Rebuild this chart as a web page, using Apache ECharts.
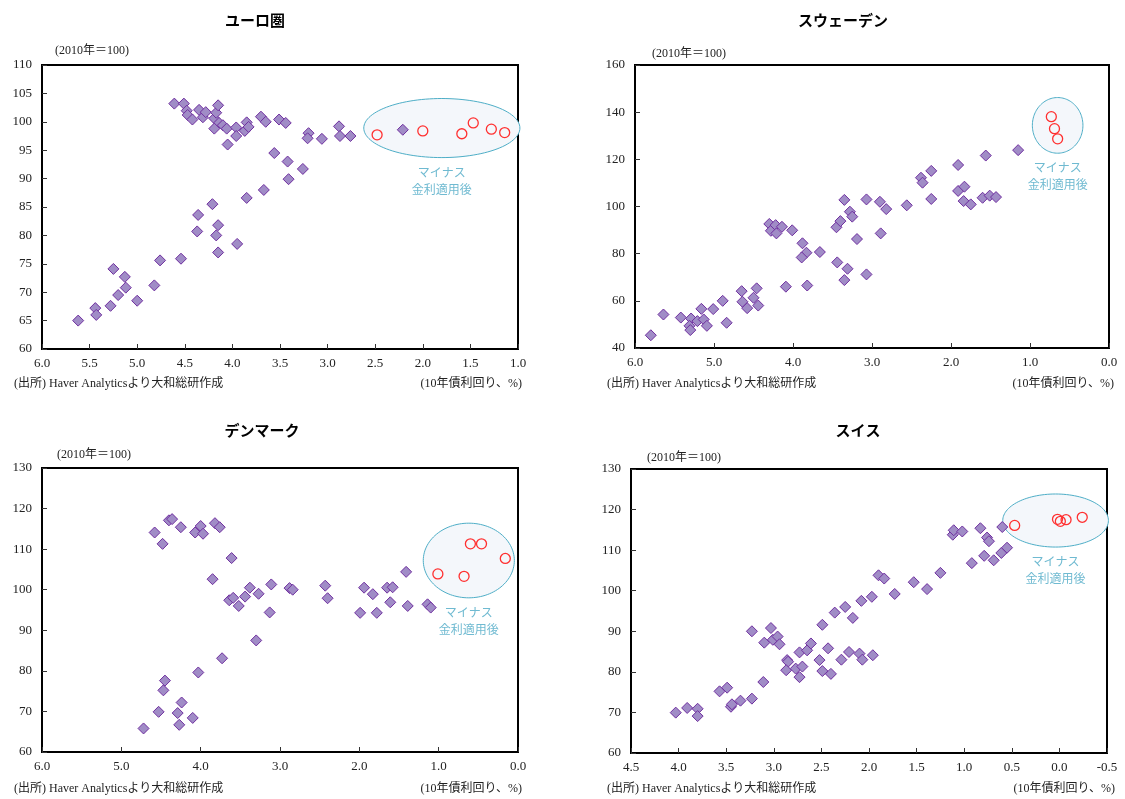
<!DOCTYPE html>
<html><head><meta charset="utf-8">
<script src="https://cdn.jsdelivr.net/npm/echarts@6/dist/echarts.min.js"></script>
<style>html,body{margin:0;padding:0;background:#fff}#c{width:1125px;height:799px}</style>
</head><body><div id="c"></div>
<script>
// ---- data ----
const panelTitles = ['ユーロ圏', 'スウェーデン', 'デンマーク', 'スイス'];
const indexNote = '(2010年＝100)';
const sourceNote = '(出所) Haver Analyticsより大和総研作成';
const unitNote = '(10年債利回り、%)';
const negLabel = 'マイナス\n金利適用後';

const euroXRange = [1, 6, 0.5];
const euroYRange = [60, 110, 5];
const euroPts = [[4.61,103.2],[4.51,103.2],[4.48,101.95],[4.47,101.2],[4.42,100.4],[4.35,102.1],[4.31,100.8],[4.28,101.7],[4.19,100.6],[4.17,101.6],[4.15,102.9],[4.14,99.8],[4.19,98.8],[4.10,99.4],[4.06,98.8],[4.05,96.0],[3.96,99.0],[3.96,97.5],[3.87,98.4],[3.85,99.9],[3.83,99.1],[3.70,100.9],[3.65,100.0],[3.56,94.5],[3.51,100.4],[3.44,99.8],[3.42,93.0],[3.41,89.9],[3.26,91.7],[3.20,98.0],[3.21,97.1],[3.06,97.0],[2.88,99.2],[2.87,97.5],[2.76,97.5],[2.21,98.6],[4.21,85.5],[4.36,83.6],[4.37,80.7],[4.15,81.8],[4.17,80.0],[4.15,77.0],[3.95,78.5],[3.85,86.6],[3.67,88.0],[4.54,75.9],[4.76,75.6],[4.82,71.2],[5.00,68.5],[5.25,74.1],[5.13,72.7],[5.12,70.8],[5.20,69.5],[5.28,67.6],[5.44,67.2],[5.43,66.0],[5.62,65.0]];
const euroNeg = [[2.48,97.7],[2.00,98.4],[1.59,97.9],[1.47,99.8],[1.28,98.7],[1.14,98.1]];
const euroEllipse = [1.80, 98.9, 0.82, 5.2];

const swedenXRange = [0, 6, 1];
const swedenYRange = [40, 160, 20];
const swedenPts = [[5.80,45.4],[5.64,54.2],[5.42,52.9],[5.29,52.5],[5.31,49.4],[5.30,47.6],[5.21,51.4],[5.13,52.1],[5.09,49.4],[5.16,56.6],[5.01,56.5],[4.89,60.0],[4.84,50.7],[4.65,64.1],[4.64,59.6],[4.58,56.9],[4.50,61.3],[4.46,65.3],[4.44,58.0],[4.30,92.6],[4.28,89.7],[4.22,92.1],[4.21,88.6],[4.14,91.4],[4.01,89.9],[4.09,66.0],[3.88,84.4],[3.83,80.4],[3.89,78.4],[3.82,66.5],[3.66,80.7],[3.44,76.3],[3.31,73.6],[3.35,68.8],[3.45,91.2],[3.40,93.8],[3.35,102.8],[3.28,97.8],[3.25,95.7],[3.19,86.2],[3.07,103.0],[3.07,71.2],[2.90,102.0],[2.82,98.9],[2.89,88.6],[2.56,100.5],[2.38,112.2],[2.36,110.1],[2.25,115.1],[2.25,103.2],[1.91,117.6],[1.91,106.6],[1.83,108.4],[1.84,102.3],[1.75,100.9],[1.56,121.6],[1.60,103.7],[1.51,104.6],[1.43,104.0],[1.15,123.9]];
const swedenNeg = [[0.73,138.1],[0.69,133.0],[0.65,128.7]];
const swedenEllipse = [0.65, 134.4, 0.32, 11.8];

const denmarkXRange = [0, 6, 1];
const denmarkYRange = [60, 130, 10];
const denmarkPts = [[4.72,65.8],[4.53,69.9],[4.27,66.7],[4.29,69.6],[4.24,72.2],[4.10,68.4],[4.47,75.2],[4.45,77.6],[4.03,79.6],[3.73,83.1],[3.30,87.5],[4.58,114.1],[4.48,111.3],[4.40,117.1],[4.36,117.4],[4.25,115.4],[4.07,114.1],[4.00,115.7],[3.97,113.8],[3.82,116.4],[3.76,115.4],[3.61,107.8],[3.85,102.6],[3.64,97.4],[3.59,98.0],[3.52,96.0],[3.44,98.3],[3.38,100.5],[3.27,99.0],[3.11,101.3],[3.13,94.4],[2.88,100.4],[2.84,100.0],[2.43,101.0],[2.40,97.9],[1.99,94.3],[1.94,100.5],[1.83,98.9],[1.78,94.3],[1.65,100.5],[1.58,100.6],[1.61,96.9],[1.41,104.4],[1.39,96.0],[1.14,96.4],[1.10,95.6]];
const denmarkNeg = [[1.01,103.9],[0.68,103.3],[0.60,111.3],[0.46,111.3],[0.16,107.7]];
const denmarkEllipse = [0.62, 107.2, 0.574, 9.2];

const swissXRange = [-0.5, 4.5, 0.5];
const swissYRange = [60, 130, 10];
const swissPts = [[4.03,69.95],[3.91,71.1],[3.80,70.9],[3.80,69.1],[3.57,75.2],[3.49,76.1],[3.45,71.4],[3.44,72.0],[3.35,72.9],[3.23,73.4],[3.11,77.5],[3.23,90.0],[3.10,87.2],[3.03,90.8],[3.01,87.9],[2.96,88.7],[2.94,86.8],[2.86,82.9],[2.85,82.5],[2.87,80.4],[2.77,80.8],[2.73,78.7],[2.70,81.3],[2.73,84.8],[2.65,85.3],[2.61,87.0],[2.52,82.9],[2.49,80.2],[2.40,79.5],[2.43,85.8],[2.49,91.6],[2.36,94.6],[2.25,96.0],[2.17,93.3],[2.29,83.0],[2.21,84.9],[2.10,84.5],[2.07,83.0],[2.08,97.5],[1.97,98.5],[1.96,84.1],[1.90,103.8],[1.84,103.0],[1.73,99.2],[1.53,102.1],[1.39,100.4],[1.25,104.4],[1.12,113.8],[1.11,114.9],[1.02,114.6],[0.92,106.8],[0.83,115.4],[0.76,113.1],[0.74,112.2],[0.79,108.6],[0.69,107.5],[0.61,109.3],[0.55,110.6],[0.60,115.7]];
const swissNeg = [[0.47,116.1],[0.02,117.6],[-0.01,117.1],[-0.07,117.5],[-0.24,118.1]];
const swissEllipse = [0.04, 117.3, 0.555, 6.54];

// ---- layout ----
const panels = [
  {pts: euroPts, neg: euroNeg, ell: euroEllipse, xr: euroXRange, yr: euroYRange,
   grid: {left: 42, top: 65, width: 476, height: 284}, titleX: 255, titleY: 20, noteX: 55, noteY: 51, srcX: 14, srcY: 384, unitX: 522},
  {pts: swedenPts, neg: swedenNeg, ell: swedenEllipse, xr: swedenXRange, yr: swedenYRange,
   grid: {left: 635, top: 65, width: 474, height: 283}, titleX: 843, titleY: 20, noteX: 652, noteY: 54, srcX: 607, srcY: 384, unitX: 1114},
  {pts: denmarkPts, neg: denmarkNeg, ell: denmarkEllipse, xr: denmarkXRange, yr: denmarkYRange,
   grid: {left: 42, top: 468, width: 476, height: 284}, titleX: 262, titleY: 430, noteX: 57, noteY: 455, srcX: 14, srcY: 789, unitX: 522},
  {pts: swissPts, neg: swissNeg, ell: swissEllipse, xr: swissXRange, yr: swissYRange,
   grid: {left: 631, top: 469, width: 476, height: 284}, titleX: 858, titleY: 430, noteX: 647, noteY: 458, srcX: 607, srcY: 789, unitX: 1115}
];

const numFont = "'Liberation Serif','Noto Sans CJK JP',serif";
const grids = [], xAxes = [], yAxes = [], series = [], graphics = [];

panels.forEach((p, i) => {
  grids.push(Object.assign({show: true, borderColor: '#000', borderWidth: 2, backgroundColor: '#fff'}, p.grid));
  xAxes.push({
    type: 'value', gridIndex: i, min: p.xr[0], max: p.xr[1], interval: p.xr[2], inverse: true,
    axisLine: {show: true, onZero: false, lineStyle: {color: '#000', width: 2}},
    axisTick: {show: true, inside: true, length: 5, lineStyle: {color: '#333'}},
    splitLine: {show: false},
    axisLabel: {color: '#222', fontFamily: numFont, fontSize: 13, margin: 8, formatter: v => v.toFixed(1)}
  });
  yAxes.push({
    type: 'value', gridIndex: i, min: p.yr[0], max: p.yr[1], interval: p.yr[2],
    axisLine: {show: true, onZero: false, lineStyle: {color: '#000', width: 2}},
    axisTick: {show: true, inside: true, length: 5, lineStyle: {color: '#333'}},
    splitLine: {show: false},
    axisLabel: {color: '#222', fontFamily: numFont, fontSize: 13, margin: 10}
  });
  series.push({
    type: 'custom', xAxisIndex: i, yAxisIndex: i, clip: false, z: 1, silent: true,
    data: [p.ell],
    renderItem: function (params, api) {
      const cx = api.value(0), cy = api.value(1), rx = api.value(2), ry = api.value(3);
      const c = api.coord([cx, cy]);
      const ex = api.coord([cx + rx, cy]);
      const ey = api.coord([cx, cy + ry]);
      const a = Math.abs(ex[0] - c[0]), b = Math.abs(c[1] - ey[1]);
      const pts = [];
      for (let k = 0; k < 120; k++) {
        const t = k / 120 * Math.PI * 2;
        pts.push([c[0] + a * Math.cos(t), c[1] + b * Math.sin(t)]);
      }
      return {type: 'group', children: [
        {type: 'polygon', shape: {points: pts}, style: {fill: '#f4f7fb', stroke: '#4eaec7', lineWidth: 1}},
        {type: 'text', x: c[0], y: c[1] + b + 6, style: {text: negLabel, fill: '#6fbad1', font: "12px 'Noto Sans CJK JP'", align: 'center', verticalAlign: 'top', lineHeight: 17}}
      ]};
    }
  });
  series.push({
    type: 'scatter', xAxisIndex: i, yAxisIndex: i, z: 3, data: p.pts,
    symbol: 'diamond', symbolSize: 11,
    itemStyle: {color: '#a08cc6', borderColor: '#7030a0', borderWidth: 1, opacity: 1}
  });
  series.push({
    type: 'scatter', xAxisIndex: i, yAxisIndex: i, z: 4, data: p.neg,
    symbol: 'circle', symbolSize: 10,
    itemStyle: {color: 'rgba(255,255,255,0)', borderColor: '#ff3030', borderWidth: 1.3, opacity: 1}
  });
  graphics.push({type: 'text', x: p.titleX, y: p.titleY, style: {text: panelTitles[i], font: "bold 15px 'Noto Sans CJK JP'", fill: '#000', align: 'center', verticalAlign: 'middle'}});
  graphics.push({type: 'text', x: p.noteX, y: p.noteY, style: {text: indexNote, font: "12px " + numFont, fill: '#222', align: 'left', verticalAlign: 'middle'}});
  graphics.push({type: 'text', x: p.srcX, y: p.srcY, style: {text: sourceNote, font: "12px " + numFont, fill: '#222', align: 'left', verticalAlign: 'middle'}});
  graphics.push({type: 'text', x: p.unitX, y: p.srcY, style: {text: unitNote, font: "12px " + numFont, fill: '#222', align: 'right', verticalAlign: 'middle'}});
});

const chart = echarts.init(document.getElementById('c'), null, {renderer: 'canvas'});
chart.setOption({
  animation: false,
  backgroundColor: '#fff',
  grid: grids, xAxis: xAxes, yAxis: yAxes, series: series,
  graphic: graphics
});
</script></body></html>
